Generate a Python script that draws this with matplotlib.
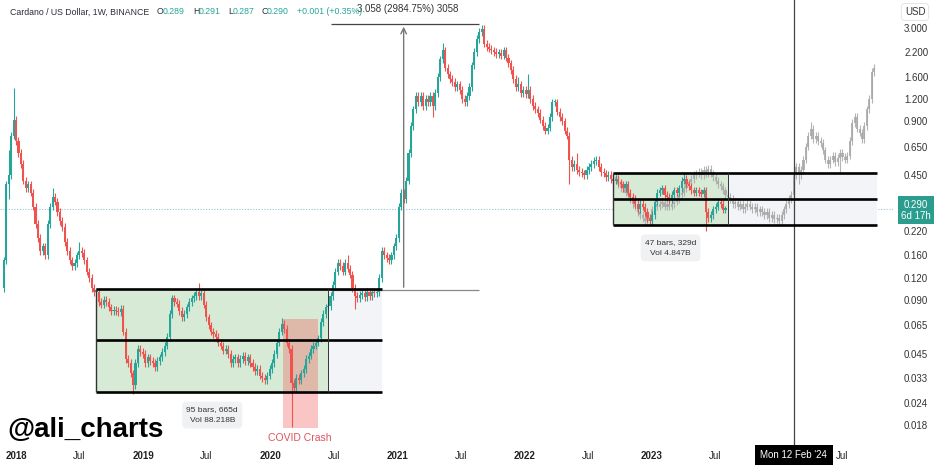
import numpy as np
import pandas as pd
import matplotlib
matplotlib.use("Agg")
import matplotlib.pyplot as plt
import matplotlib.dates as mdates
from matplotlib.patches import Rectangle
from matplotlib.ticker import NullLocator

plt.rcParams['font.family'] = ['Liberation Sans', 'DejaVu Sans']

# --- weekly ADA candles (open = previous close) ---
START = "2017-11-27"
first_open = 0.105
closes = [
    0.15, 0.40, 0.45, 0.75, 0.92, 0.70, 0.60, 0.52, 0.42, 0.38,
    0.40, 0.36, 0.30, 0.24, 0.20, 0.17, 0.18, 0.16, 0.24, 0.30,
    0.34, 0.32, 0.28, 0.25, 0.23, 0.19, 0.17, 0.15, 0.14, 0.145,
    0.16, 0.17, 0.165, 0.15, 0.13, 0.12, 0.105, 0.10, 0.10, 0.088,
    0.085, 0.09, 0.088, 0.082, 0.078, 0.079, 0.078, 0.077, 0.08, 0.06,
    0.042, 0.040, 0.035, 0.030, 0.040, 0.048, 0.046, 0.045, 0.040, 0.043,
    0.041, 0.040, 0.038, 0.041, 0.043, 0.046, 0.050, 0.056, 0.075, 0.092,
    0.088, 0.086, 0.078, 0.072, 0.075, 0.082, 0.088, 0.092, 0.095, 0.100,
    0.095, 0.098, 0.085, 0.072, 0.065, 0.060, 0.058, 0.056, 0.052, 0.050,
    0.047, 0.048, 0.045, 0.040, 0.042, 0.043, 0.040, 0.042, 0.044, 0.041,
    0.043, 0.040, 0.038, 0.036, 0.037, 0.034, 0.033, 0.032, 0.034, 0.037,
    0.040, 0.045, 0.052, 0.060, 0.066, 0.062, 0.052, 0.048, 0.031, 0.029,
    0.033, 0.032, 0.035, 0.037, 0.042, 0.044, 0.048, 0.050, 0.052, 0.055,
    0.068, 0.075, 0.082, 0.083, 0.095, 0.110, 0.130, 0.145, 0.140, 0.130,
    0.145, 0.135, 0.125, 0.105, 0.095, 0.092, 0.096, 0.098, 0.094, 0.100,
    0.095, 0.100, 0.098, 0.100, 0.120, 0.170, 0.160, 0.155, 0.150, 0.160,
    0.180, 0.200, 0.300, 0.360, 0.330, 0.420, 0.600, 0.850, 1.050, 1.250,
    1.15, 1.25, 1.10, 1.20, 1.15, 1.25, 1.10, 1.30, 1.60, 2.00,
    2.25, 1.80, 1.65, 1.55, 1.50, 1.40, 1.45, 1.35, 1.20, 1.15,
    1.25, 1.40, 1.85, 2.20, 2.60, 2.85, 2.95, 2.45, 2.35, 2.30,
    2.25, 2.20, 2.15, 2.18, 2.10, 2.25, 2.05, 1.90, 1.75, 1.55,
    1.40, 1.45, 1.30, 1.35, 1.28, 1.35, 1.20, 1.10, 1.05, 1.00,
    0.92, 0.85, 0.80, 0.83, 0.95, 1.15, 1.15, 1.02, 0.95, 0.90,
    0.80, 0.75, 0.55, 0.50, 0.52, 0.48, 0.47, 0.46, 0.45, 0.48,
    0.50, 0.52, 0.54, 0.55, 0.50, 0.47, 0.46, 0.44, 0.45, 0.43,
    0.42, 0.43, 0.41, 0.40, 0.38, 0.40, 0.36, 0.34, 0.33, 0.31,
    0.29, 0.31, 0.30, 0.28, 0.26, 0.25, 0.27, 0.32, 0.36, 0.37,
    0.38, 0.35, 0.34, 0.33, 0.35, 0.37, 0.36, 0.38, 0.42, 0.43,
    0.40, 0.39, 0.37, 0.36, 0.37, 0.36, 0.355, 0.37, 0.28, 0.26,
    0.27, 0.29, 0.30, 0.32, 0.31, 0.289, 0.290,
]
# long wicks that stand out (week index -> price)
real_high = {2: 0.62, 4: 1.38, 20: 0.38, 31: 0.19, 80: 0.112, 114: 0.071,
             141: 0.16, 180: 2.46, 196: 3.10, 211: 1.60, 215: 1.65,
             235: 0.60, 279: 0.46}
real_low = {2: 0.33, 53: 0.027, 118: 0.0175, 144: 0.08, 176: 0.95,
            232: 0.40, 288: 0.22}

# --- grey projected fractal ---
GHOST_START = "2022-09-19"
ghost_open = 0.44
ghost_closes = [
    0.42, 0.40, 0.38, 0.39, 0.36, 0.35, 0.33, 0.31, 0.30, 0.28,
    0.27, 0.26, 0.25, 0.26, 0.255, 0.29, 0.31, 0.30, 0.31, 0.32,
    0.30, 0.31, 0.30, 0.31, 0.32, 0.33, 0.35, 0.36, 0.38, 0.40,
    0.41, 0.43, 0.45, 0.46, 0.47, 0.45, 0.48, 0.46, 0.49, 0.46,
    0.44, 0.42, 0.40, 0.39, 0.37, 0.35, 0.34, 0.33, 0.31, 0.32,
    0.30, 0.31, 0.29, 0.30, 0.31, 0.30, 0.29, 0.30, 0.28, 0.29,
    0.28, 0.27, 0.28, 0.26, 0.27, 0.255, 0.26, 0.25, 0.27, 0.29,
    0.31, 0.33, 0.35, 0.45, 0.50, 0.45, 0.48, 0.55, 0.65, 0.75,
    0.82, 0.72, 0.75, 0.70, 0.68, 0.62, 0.55, 0.52, 0.55, 0.58,
    0.53, 0.56, 0.60, 0.57, 0.55, 0.58, 0.70, 0.88, 0.95, 0.82,
    0.78, 0.72, 0.85, 1.05, 1.20, 1.70, 1.80,
]
ghost_high = {38: 0.51, 80: 0.89}
ghost_low = {67: 0.24, 75: 0.40, 92: 0.47}

# --- drawings ---
range1_dates = ["2018-08-20", "2020-06-15", "2020-11-16"]
range1_levels = [0.0275, 0.054, 0.104]
range1_text = "95 bars, 665d\nVol 88.218B"
range2_dates = ["2022-09-12", "2023-08-07", "2024-10-07"]
range2_levels = [0.237, 0.331, 0.463]
range2_text = "47 bars, 329d\nVol 4.847B"
measure_dates = ["2020-06-22", "2021-01-18", "2021-08-23"]
measure_levels = [0.1025, 3.1605]
measure_text = "3.058 (2984.75%) 3058"
covid_dates = ["2020-02-06", "2020-05-16"]
covid_levels = [0.0173, 0.0706]
marker_date = "2024-02-12"
last_price = 0.290

yticks = [3.0, 2.2, 1.6, 1.2, 0.9, 0.65, 0.45, 0.22, 0.16, 0.12, 0.09,
          0.065, 0.045, 0.033, 0.024, 0.018]
xtick_dates = ["2018-01-01", "2018-07-01", "2019-01-01", "2019-07-01",
               "2020-01-01", "2020-07-01", "2021-01-01", "2021-07-01",
               "2022-01-01", "2022-07-01", "2023-01-01", "2023-07-01",
               "2024-07-01"]
xtick_labels = ["2018", "Jul", "2019", "Jul", "2020", "Jul", "2021", "Jul",
                "2022", "Jul", "2023", "Jul", "Jul"]

UP = "#26a69a"
DOWN = "#ef5350"
GHOST = "#a8a8a8"
WICK = 1.05


def dnum(s):
    return mdates.date2num(pd.Timestamp(s))


def draw_candles(ax, start, o0, cl, hi, lo, up, down, z, alpha=1.0):
    x = mdates.date2num(pd.date_range(start, periods=len(cl), freq="7D"))
    c = np.array(cl)
    o = np.concatenate([[o0], c[:-1]])
    top = np.maximum(o, c)
    bot = np.minimum(o, c)
    highs = np.array([hi.get(i, t * WICK) for i, t in enumerate(top)])
    lows = np.array([lo.get(i, b / WICK) for i, b in enumerate(bot)])
    cols = np.where(c >= o, up, down)
    ax.vlines(x, lows, highs, colors=cols, lw=0.8, zorder=z, alpha=alpha)
    h = np.maximum(top - bot, bot * 0.02)
    ax.bar(x, h, bottom=bot, width=6.0, color=cols, lw=0, zorder=z, alpha=alpha)


fig = plt.figure(figsize=(9.4, 4.65), dpi=100)
ax = fig.add_axes([0, 20 / 465, 893 / 940, 445 / 465])
ax.set_yscale("log")
ax.set_ylim(0.01391, 4.302)
ax.set_xlim(dnum("2017-11-16"), dnum("2024-11-23"))
for sp in ax.spines.values():
    sp.set_visible(False)


def draw_range(dates, levels):
    d0, d1, d2 = [dnum(d) for d in dates]
    lo, mid, hi = levels
    ax.add_patch(Rectangle((d0, lo), d1 - d0, hi - lo, color="#d7ead5", lw=0, zorder=1))
    ax.add_patch(Rectangle((d1, lo), d2 - d1, hi - lo, color="#f2f4f8", lw=0, zorder=1))
    for lv in levels:
        ax.hlines(lv, d0, d2, color="black", lw=1.9, zorder=5)
    ax.vlines(d0, lo, hi, color="#333333", lw=1.0, zorder=5)
    ax.vlines(d1, lo, hi, color="#333333", lw=0.7, zorder=5)


draw_range(range1_dates, range1_levels)
draw_range(range2_dates, range2_levels)

# covid box
c0, c1 = dnum(covid_dates[0]), dnum(covid_dates[1])
ax.add_patch(Rectangle((c0, covid_levels[0]), c1 - c0, covid_levels[1] - covid_levels[0],
                       color="#ef5350", alpha=0.33, lw=0, zorder=2))

draw_candles(ax, GHOST_START, ghost_open, ghost_closes, ghost_high, ghost_low,
             GHOST, GHOST, 2, alpha=0.85)
draw_candles(ax, START, first_open, closes, real_high, real_low, UP, DOWN, 3)

# last price line
ax.axhline(last_price, color="#9cc2d3", lw=0.8, ls=(0, (1, 1.5)), zorder=0)

# measure tool
m0, m1, m2 = [dnum(d) for d in measure_dates]
ax.hlines(measure_levels[1], m0, m2, color="#444444", lw=0.9, zorder=4)
ax.hlines(measure_levels[0], m0, m2, color="#888888", lw=0.9, zorder=4)
ax.annotate("", xy=(m1, measure_levels[1]), xytext=(m1, measure_levels[0]),
            arrowprops=dict(arrowstyle="->", color="#777777", lw=1.0), zorder=4)
ax.annotate(measure_text, xy=(m1, measure_levels[1]), xytext=(3, 11),
            textcoords="offset points", ha="center", va="center",
            fontsize=7, color="#333333", zorder=6)

# vertical marker
ax.axvline(dnum(marker_date), color="#444444", lw=0.9, zorder=4)

# range labels
for dates, levels, txt in [(range1_dates, range1_levels, range1_text),
                           (range2_dates, range2_levels, range2_text)]:
    cx = (dnum(dates[0]) + dnum(dates[1])) / 2
    ax.annotate(txt, xy=(cx, levels[0]), xytext=(0, -16.5), textcoords="offset points",
                ha="center", va="center", fontsize=6, color="#333333", linespacing=1.9,
                bbox=dict(boxstyle="round,pad=0.5", fc="#f0f1f3", ec="none"), zorder=6)

ax.annotate("COVID Crash", xy=((c0 + c1) / 2, covid_levels[0]), xytext=(0, -7),
            textcoords="offset points", ha="center", va="center",
            fontsize=7.5, color="#e0525f", zorder=6)

# axes ticks
ax.yaxis.tick_right()
ax.set_yticks(yticks)
ax.set_yticklabels([f"{v:.3f}" for v in yticks])
ax.yaxis.set_minor_locator(NullLocator())
ax.tick_params(axis="y", length=0, pad=8, labelsize=7, labelcolor="#333333")
ax.set_xticks([dnum(d) for d in xtick_dates])
ax.set_xticklabels(xtick_labels)
ax.xaxis.set_minor_locator(NullLocator())
ax.tick_params(axis="x", length=0, pad=4.5, labelsize=7, labelcolor="#222222")
for lab in ax.get_xticklabels():
    if lab.get_text() != "Jul":
        lab.set_fontweight("bold")

# date label of the marker
ax.text(dnum(marker_date), -0.0225, "Mon 12 Feb '24", transform=ax.get_xaxis_transform(),
        ha="center", va="center", fontsize=7, color="white", zorder=10,
        bbox=dict(boxstyle="square,pad=0.55", fc="black", ec="none"))

# last price tag
ax.text(916 / 893, last_price * 0.985, "0.290\n6d 17h", transform=ax.get_yaxis_transform(),
        ha="center", va="center", fontsize=7, color="white", linespacing=1.15,
        bbox=dict(boxstyle="square,pad=0.35", fc="#2a9d8f", ec="none"), clip_on=False)


def ftxt(x, y, s, **kw):
    fig.text(x / 940, 1 - y / 465, s, **kw)


ftxt(915, 12, "USD", fontsize=7, color="#333333", ha="center", va="center",
     bbox=dict(boxstyle="round,pad=0.35", fc="white", ec="#e0e0e0", lw=0.6))

ftxt(10, 12, "Cardano / US Dollar, 1W, BINANCE", fontsize=6.3, color="#2a2e39", va="center")
title_parts = [("O", 157, "#2a2e39"), ("0.289", 163, UP), ("H", 193, "#2a2e39"),
               ("0.291", 199, UP), ("L", 228, "#2a2e39"), ("0.287", 233, UP),
               ("C", 261, "#2a2e39"), ("0.290", 267, UP), ("+0.001 (+0.35%)", 297, UP)]
for s, x, col in title_parts:
    ftxt(x, 12, s, fontsize=6.3, color=col, va="center")

ftxt(7, 437, "@ali_charts", fontsize=20, fontweight="bold", color="black", va="baseline")

fig.savefig("out.png", dpi=100)
